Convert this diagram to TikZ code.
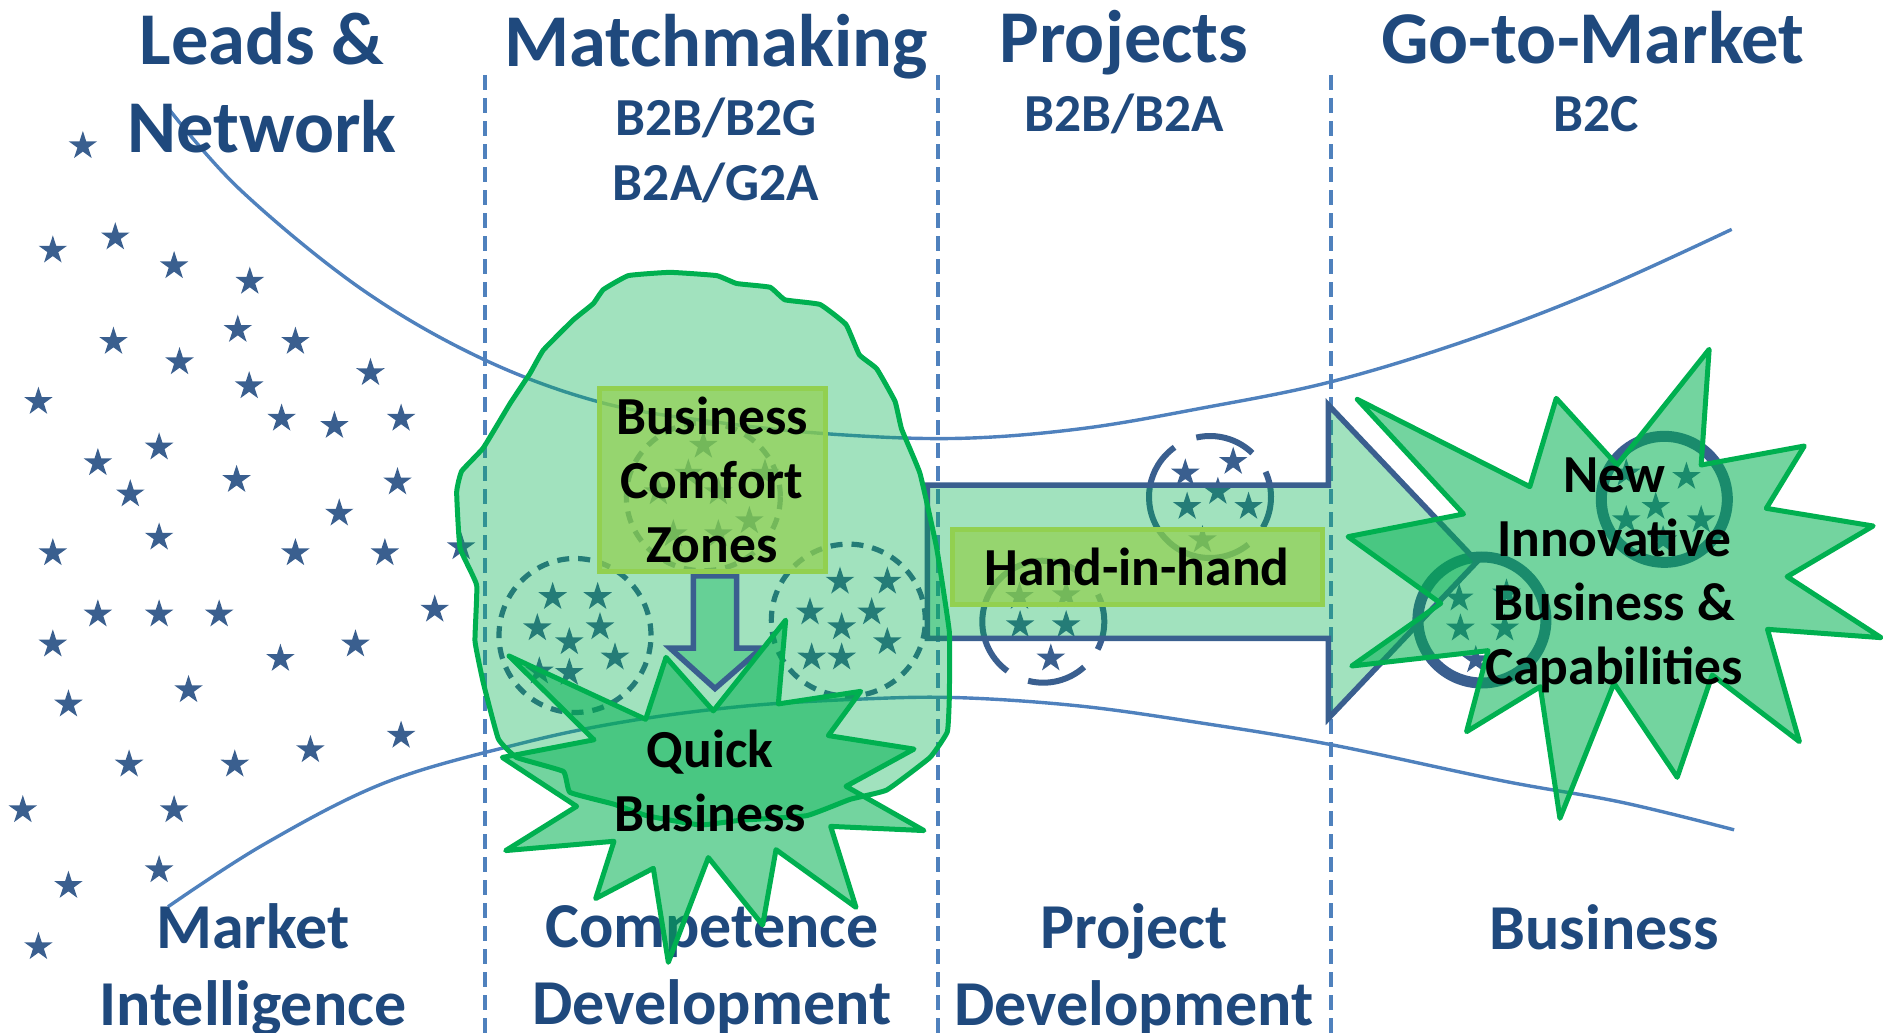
\documentclass[tikz,border=0pt]{standalone}
\usepackage{fontspec}
\setmainfont{Carlito}
\definecolor{navy}{HTML}{3A5F8F}
\definecolor{headblue}{HTML}{1F497D}
\definecolor{guide}{HTML}{4F81BD}
\definecolor{kelly}{HTML}{00B050}
\definecolor{limeg}{HTML}{92D050}
\newcommand\skstar[2]{\fill[navy] (#1,#2) +(90:15pt) -- +(126:5.7pt) -- +(162:15pt) -- +(198:5.7pt) -- +(234:15pt) -- +(270:5.7pt) -- +(306:15pt) -- +(342:5.7pt) -- +(18:15pt) -- +(54:5.7pt) -- cycle;}
\newcommand\skarc[4]{\draw[widearc] (#1) ++(#2:#4) arc [start angle=#2,end angle=#3,radius=#4];}
\tikzset{
  shown/.style={x=1.2009pt,y=-1.2009pt},
  zoomA/.style={x=0.33333pt,y=-0.46556pt,shift={(440pt,-250pt)}},
  zoomB/.style={x=0.61412pt,y=-0.33333pt,shift={(920pt,-340pt)}},
  guideline/.style={draw=guide,line width=3.5pt,dash pattern=on 15pt off 8pt},
  funnel/.style={draw=guide,line width=3.4pt},
  headtext/.style={text=headblue,align=center,font=\bfseries\fontsize{74.5}{88}\selectfont},
  subtext/.style={text=headblue,align=center,font=\bfseries\fontsize{53.5}{65}\selectfont},
  foottext/.style={text=headblue,align=center,font=\bfseries\fontsize{64}{77}\selectfont},
  blacktext/.style={text=black,align=center,font=\bfseries\fontsize{53.5}{64}\selectfont},
  zonebox/.style={draw=limeg,line width=5pt,fill=limeg,fill opacity=.72,draw opacity=1,text opacity=1,inner sep=0pt},
  closedash/.style={draw=navy,line width=5.2pt,dash pattern=on 12pt off 9pt},
  widearc/.style={draw=navy,line width=6pt},
  solidring/.style={draw=navy,line width=11pt},
  greenfill/.style={fill=kelly,fill opacity=.37},
  burst/.style={draw=kelly,line width=5pt,line join=round,fill=kelly,fill opacity=.55},
  outlinearrow/.style={draw=navy,line width=5.5pt,miter limit=10,fill=kelly,fill opacity=.37},
}
\begin{document}
\begin{tikzpicture}[x=1pt,y=-1pt]
\useasboundingbox (0,0) rectangle (1883,1033);
% column guides
\coordinate (g1t) at (485,75); \coordinate (g1b) at (485,1033);
\coordinate (g2t) at (938,75); \coordinate (g2b) at (938,1033);
\coordinate (g3t) at (1331,75); \coordinate (g3b) at (1331,1033);
\draw[guideline] (g1t) -- (g1b);
\draw[guideline] (g2t) -- (g2b);
\draw[guideline] (g3t) -- (g3b);
% funnel
\begin{scope}[shown]
\draw[funnel] plot[smooth,tension=.6] coordinates {(140,90) (200,158) (300,240) (400,298) (500,335) (600,352) (700,362) (800,365) (900,357) (1000,340) (1108,318) (1220,284) (1330,242) (1442,191)};
\draw[funnel] plot[smooth,tension=.6] coordinates {(140,755) (220,703) (320,652) (430,620) (520,601) (620,588) (720,582) (800,581) (900,588) (1000,602) (1108,620) (1250,650) (1350,668) (1444,691)};
% scattered stars
\foreach \a/\b in {69/121.5,44/208.5,96/197.5,145/221.5,208/234.5,94.5/284.5,198/274.5,246/284.5,149.5/301.5,308.5/310.5,207.5/321.5,32/334.5,234.5/348.5,278.5/354.5,334/348.5,132.5/372.5,81.5/385.5,197/399.5,331/401.5,108.5/411.5,282.5/427.5,132.5/447.5,44/460.5,246/460.5,320.5/460.5,384/455.5,81.5/511.5,132.5/511.5,182.5/511.5,44/536.5,362/507.5,296/536.5,233.5/548.5,157/574.5,57/586.5,334/612.5,258.5/624.5,195.5/636.5,107.5/636.5,145/674.5,19/674.5,132.5/724.5,57/737.5,32/788.5}{\skstar{\a}{\b}}
\end{scope}
% headings
\node[headtext] (leads) at (262,83) {Leads \&\\Network};
\node[headtext] (match) at (716,47) {Matchmaking};
\node[subtext] (matchsub) at (716,150) {B2B/B2G\\B2A/G2A};
\node[headtext] (proj) at (1124,43) {Projects};
\node[subtext] (projsub) at (1124,114) {B2B/B2A};
\node[headtext] (gtm) at (1593,38) {Go-to-Market};
\node[subtext] (gtmsub) at (1596,114) {B2C};
\node[foottext] (market) at (253,970) {Market\\Intelligence};
\node[foottext] (comp) at (712,970) {Competence\\Development};
\node[foottext] (project) at (1134,970) {Project\\Development};
\node[foottext] (business) at (1604,927) {Business};
% star clusters in the blob
\begin{scope}[zoomA]
\draw[closedash] (405,828) ellipse [x radius=76pt,y radius=77pt];
\draw[closedash] (1225,795) ellipse [x radius=77pt,y radius=76pt];
\draw[closedash] (790,530) ellipse [x radius=77pt,y radius=74pt];
\foreach \a/\b in {338/745,473/745,292/812,388/842,480/810,525/875,298/905,388/908,1200/712,1342/712,1110/778,1295/778,1205/810,1342/842,1115/875,1205/875,790/420,745/480,975/480,655/520,835/520,928/582,700/610,835/610}{\skstar{\a}{\b}}
\end{scope}
% star clusters by the big arrow
\coordinate (ringtop) at (1210,-497);
\coordinate (ringlow) at (1043.3,-621.7);
\skarc{1210pt,-497pt}{46}{103}{61pt}
\skarc{1210pt,-497pt}{-30}{24.4}{61pt}
\skarc{1210pt,-497pt}{125.5}{309}{61pt}
\skarc{1043.3pt,-621.7pt}{52}{234}{61pt}
\skarc{1043.3pt,-621.7pt}{255.6}{312}{61pt}
\skarc{1043.3pt,-621.7pt}{-27}{26.6}{61pt}
\begin{scope}[zoomB]
\draw[solidring] (915,840) ellipse [x radius=64pt,y radius=63pt];
\draw[solidring] (1212,478) ellipse [x radius=63pt,y radius=63pt];
\foreach \a/\b in {432/400,510/365,485/455,435/500,535/500,460/600,162/770,238/765,163/855,238/855,213/955,878/775,955/760,880/865,952/865,905/960,1248/410,1198/500,1150/540,1272/540,1210/600,1150/400}{\skstar{\a}{\b}}
% big arrow
\draw[outlinearrow] (12,435) -- (665,435) -- (665,195) -- (907,665) -- (665,1135) -- (665,895) -- (12,895) -- cycle;
\end{scope}
% comfort-zone blob and down arrow
\begin{scope}[zoomA]
\draw[draw=kelly,line width=5pt,line join=round,greenfill] plot[smooth cycle,tension=.2] coordinates {(565,55) (690,48) (830,55) (890,72) (990,80) (1035,107) (1140,117) (1218,160) (1258,225) (1310,255) (1365,325) (1385,385) (1440,480) (1490,640) (1528,820) (1528,960) (1522,1035) (1470,1090) (1340,1160) (1230,1180) (1100,1215) (900,1225) (780,1235) (620,1215) (520,1190) (390,1165) (370,1120) (230,1090) (175,1050) (130,930) (105,840) (110,720) (60,640) (50,520) (65,475) (130,425) (210,330) (270,265) (310,215) (400,150) (460,115) (490,85)};
\draw[outlinearrow] (760,700) -- (890,700) -- (890,855) -- (965,855) -- (825,942) -- (690,855) -- (760,855) -- cycle;
\end{scope}
% text boxes
\node[zonebox,blacktext,minimum width=226pt,minimum height=183pt] (zones) at (712,479.5) {Business\\Comfort\\Zones};
\node[zonebox,blacktext,minimum width=370pt,minimum height=75pt] (hand) at (1137,566.5) {Hand-in-hand};
% bursts
\begin{scope}[zoomA]
\draw[burst] (207,872) -- (617,1008) -- (678,875) -- (820,990) -- (1037,795) -- (1015,975) -- (1262,948) -- (1165,1043) -- (1422,1072) -- (1218,1152) -- (1452,1247) -- (1172,1238) -- (1248,1412) -- (1008,1288) -- (968,1450) -- (805,1305) -- (685,1530) -- (640,1328) -- (467,1393) -- (522,1270) -- (197,1290) -- (410,1195) -- (187,1090) -- (462,1052) -- cycle;
\end{scope}
\begin{scope}[zoomB]
\draw[burst] (712,178) -- (993,440) -- (1036,175) -- (1135,375) -- (1285,28) -- (1272,375) -- (1440,318) -- (1378,505) -- (1552,558) -- (1412,710) -- (1565,893) -- (1380,868) -- (1432,1205) -- (1290,1005) -- (1233,1312) -- (1130,1030) -- (1042,1435) -- (1010,1040) -- (890,1175) -- (925,932) -- (703,978) -- (848,790) -- (697,590) -- (885,522) -- cycle;
\end{scope}
\node[blacktext] (quick) at (710,781) {Quick\\Business};
\node[blacktext] (newbiz) at (1614,575) {New\\Innovative\\Business \&\\Capabilities};
\end{tikzpicture}
\end{document}
